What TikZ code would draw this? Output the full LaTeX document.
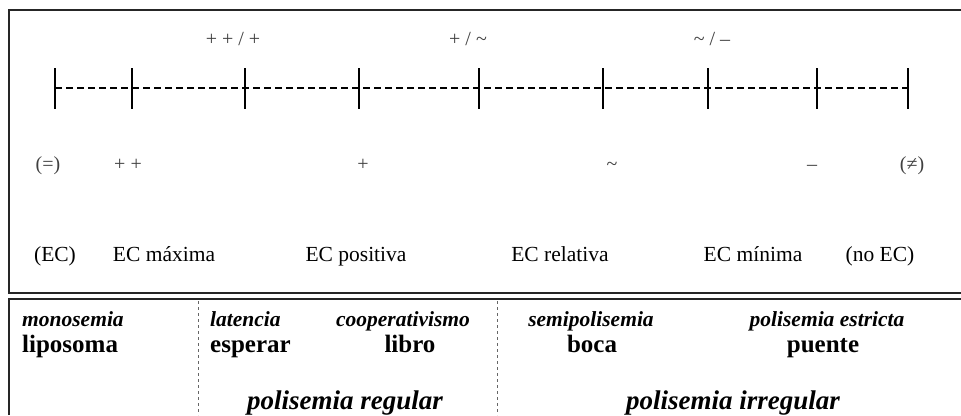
\documentclass[tikz,border=0pt]{standalone}
\usepackage{fontspec}
\setmainfont{Liberation Serif}
\usepackage{tikz}
\usetikzlibrary{positioning}
\tikzset{
     frameLine/.style =
        { draw
        , line width=1.5pt
        , color=black!85
        }
   , scaleLine/.style =
        { draw
        , line width=1.4pt
        , dash pattern=on 7pt off 4pt
        }
   , tickLine/.style =
        { draw
        , line width=1.6pt
        }
   , sepLine/.style =
        { draw
        , line width=0.6pt
        , color=black!60
        , dash pattern=on 3pt off 3pt
        }
   , signLabel/.style =
        { anchor=base
        , inner sep=0pt
        , font=\fontsize{20}{24}\selectfont
        , color=black!75
        }
   , ecLabel/.style =
        { anchor=base
        , inner sep=0pt
        , font=\fontsize{21.5}{25}\selectfont
        }
   , typeLabel/.style =
        { anchor=base
        , inner sep=0pt
        , font=\fontsize{21.5}{25}\selectfont\bfseries\itshape
        }
   , wordLabel/.style =
        { anchor=base
        , inner sep=0pt
        , font=\fontsize{25}{30}\selectfont\bfseries
        }
   , groupLabel/.style =
        { anchor=base
        , inner sep=0pt
        , font=\fontsize{27}{32}\selectfont\bfseries\itshape
        }
}
\begin{document}
\begin{tikzpicture}
            [ x=1pt
            , y=-1pt
            ]
            \useasboundingbox (0,0) rectangle (961,415);

            % frames
            \draw[frameLine] (962,10) -- (9,10) -- (9,293) -- (962,293);
            \draw[frameLine] (9,415) -- (9,299) -- (962,299);
            \draw[sepLine] (198,301) -- (198,415);
            \draw[sepLine] (497,301) -- (497,415);

            % scale
            \foreach \name/\x in {1/55,2/132,3/245,4/359,5/479,6/603,7/708,8/817,9/908}
            {
                \coordinate (t\name) at (\x,88);
                \draw[tickLine] (\x,68) -- (\x,109);
            }
            \draw[scaleLine] (t1) -- (t9);

            \node[signLabel] (s12) at (233,45) {+ + / +};
            \node[signLabel] (s23) at (468,45) {+ / \textasciitilde};
            \node[signLabel] (s34) at (712,45) {\textasciitilde\ / –};

            \node[signLabel] (eq)   at (48,170)  {(=)};
            \node[signLabel] (pp)   at (128,170) {+ +};
            \node[signLabel] (p)    at (363,170) {+};
            \node[signLabel] (tl)   at (612,170) {\textasciitilde};
            \node[signLabel] (m)    at (812,170) {–};
            \node[signLabel] (neq)  at (912,170) {(≠)};

            \node[ecLabel] (ec)     at (55,261)  {(EC)};
            \node[ecLabel] (ecmax)  at (164,261) {EC máxima};
            \node[ecLabel] (ecpos)  at (356,261) {EC positiva};
            \node[ecLabel] (ecrel)  at (560,261) {EC relativa};
            \node[ecLabel] (ecmin)  at (753,261) {EC mínima};
            \node[ecLabel] (noec)   at (880,261) {(no EC)};

            % classes
            \node[typeLabel, anchor=base west] (mono)  at (22,326)  {monosemia};
            \node[typeLabel, anchor=base west] (lat)   at (210,326) {latencia};
            \node[typeLabel] (coop)  at (403,326) {cooperativismo};
            \node[typeLabel] (semi)  at (591,326) {semipolisemia};
            \node[typeLabel] (estr)  at (827,326) {polisemia estricta};

            \node[wordLabel, anchor=base west] (lipo) at (22,352)  {liposoma};
            \node[wordLabel, anchor=base west] (esp)  at (210,352) {esperar};
            \node[wordLabel] (libro) at (410,352) {libro};
            \node[wordLabel] (boca)  at (592,352) {boca};
            \node[wordLabel] (puen)  at (823,352) {puente};

            \node[groupLabel] (reg)   at (345,409) {polisemia regular};
            \node[groupLabel] (irreg) at (733,409) {polisemia irregular};
\end{tikzpicture}
\end{document}
